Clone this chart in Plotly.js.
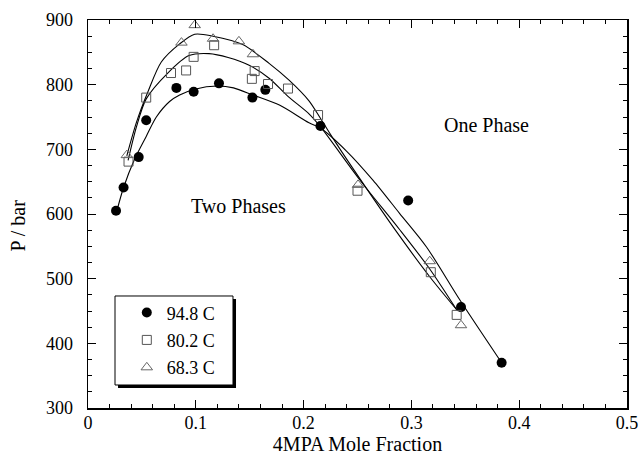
<!DOCTYPE html>
<html>
<head>
<meta charset="utf-8">
<script src="https://cdn.plot.ly/plotly-3.0.1.min.js"></script>
<style>html,body{margin:0;padding:0;background:#fff;}#chart{width:639px;height:462px;}</style>
</head>
<body>
<div id="chart"></div>
<script>
// measured points
const x94 = [0.026, 0.033, 0.047, 0.054, 0.082, 0.098, 0.1215, 0.1525, 0.1645, 0.2156, 0.297, 0.346, 0.3837];
const y94 = [605, 641, 688, 745, 795, 789, 802, 780, 792, 736, 621, 456, 370];
const x80 = [0.0376, 0.054, 0.077, 0.091, 0.098, 0.117, 0.1546, 0.152, 0.167, 0.1855, 0.2134, 0.25, 0.318, 0.342];
const y80 = [681, 780, 818, 822, 843, 861, 821, 809, 801, 794, 753, 636, 510, 444];
const x68 = [0.036, 0.0867, 0.099, 0.116, 0.140, 0.153, 0.2505, 0.317, 0.346];
const y68 = [691, 865, 892, 871, 867, 847, 645, 527, 428];
// fitted curves
const fit94x = [0.026, 0.033, 0.043, 0.054, 0.0634, 0.0757, 0.085, 0.099, 0.12, 0.135, 0.153, 0.178, 0.205, 0.2156, 0.24, 0.2645, 0.289, 0.314, 0.345, 0.3837];
const fit94y = [600, 641, 684, 720, 750, 774, 784, 793, 798, 795, 784, 768, 741, 733, 697, 652, 601, 549, 467, 370];
const fit80x = [0.0372, 0.045, 0.054, 0.074, 0.0937, 0.1123, 0.13, 0.1495, 0.168, 0.1855, 0.205, 0.2156, 0.252, 0.289, 0.317, 0.342];
const fit80y = [683, 735, 778, 818, 845, 848, 842, 830, 810, 782, 755, 735, 653, 576, 515, 452];
const fit68x = [0.036, 0.045, 0.0556, 0.068, 0.085, 0.099, 0.116, 0.1435, 0.168, 0.1865, 0.205, 0.2156, 0.23, 0.252, 0.283, 0.317, 0.343];
const fit68y = [690, 742, 789, 835, 863, 878, 875, 862, 833, 807, 775, 748, 710, 655, 580, 503, 450];
const seriesNames = ['94.8 C', '80.2 C', '68.3 C'];

const FONT = 'Liberation Serif, Times New Roman, serif';
const lineStyle = {color: '#000', width: 1.1, shape: 'spline', smoothing: 0.8};

const traces = [
  {x: fit94x, y: fit94y, mode: 'lines', line: lineStyle, showlegend: false, hoverinfo: 'skip'},
  {x: fit80x, y: fit80y, mode: 'lines', line: lineStyle, showlegend: false, hoverinfo: 'skip'},
  {x: fit68x, y: fit68y, mode: 'lines', line: lineStyle, showlegend: false, hoverinfo: 'skip'},
  {x: x94, y: y94, mode: 'markers', name: seriesNames[0], legendgroup: 'a',
   marker: {symbol: 'circle', size: 10, color: '#000'}},
  {x: x80, y: y80, mode: 'markers', name: seriesNames[1], legendgroup: 'b',
   marker: {symbol: 'square-open', size: 9, color: '#555', line: {width: 1}}},
  {x: x68, y: y68, mode: 'markers', name: seriesNames[2], legendgroup: 'c',
   marker: {symbol: 'triangle-up-open', size: 10, color: '#666', line: {width: 1}}}
];

const axisCommon = {
  showline: true, linecolor: '#000', linewidth: 1.5, mirror: 'allticks',
  ticks: 'inside', ticklen: 8, tickwidth: 1, tickcolor: '#000',
  showgrid: false, zeroline: false, automargin: false,
  tickfont: {family: FONT, size: 18, color: '#000'}
};

const layout = {
  width: 639, height: 462,
  margin: {l: 88, r: 12, t: 20, b: 54},
  paper_bgcolor: '#fff', plot_bgcolor: '#fff',
  font: {family: FONT, size: 18, color: '#000'},
  xaxis: Object.assign({}, axisCommon, {
    range: [0, 0.5], tick0: 0, dtick: 0.1, ticklabelstandoff: -2,
    minor: {dtick: 0.02, ticks: 'inside', ticklen: 4, tickcolor: '#000', showgrid: false},
    title: {text: '4MPA Mole Fraction', font: {family: FONT, size: 20, color: '#000'}, standoff: 4}
  }),
  yaxis: Object.assign({}, axisCommon, {
    range: [300, 900], tick0: 300, dtick: 100, ticklabelstandoff: 10,
    minor: {dtick: 25, ticks: 'inside', ticklen: 4, tickcolor: '#000', showgrid: false}
  }),
  showlegend: true,
  legend: {
    x: 0.072, y: 0.293, xanchor: 'left', yanchor: 'top',
    bgcolor: 'rgba(0,0,0,0)', borderwidth: 0,
    traceorder: 'grouped', tracegroupgap: 1,
    font: {family: FONT, size: 18, color: '#000'}
  },
  shapes: [
    {type: 'rect', xref: 'paper', yref: 'paper', x0: 0.0557, x1: 0.2746, y0: 0.0515, y1: 0.2809,
     fillcolor: '#000', line: {width: 0}, layer: 'above'},
    {type: 'rect', xref: 'paper', yref: 'paper', x0: 0.0501, x1: 0.269, y0: 0.0593, y1: 0.2887,
     fillcolor: '#fff', line: {color: '#000', width: 1}, layer: 'above'}
  ],
  annotations: [
    {x: -0.13, y: 0.47, xref: 'paper', yref: 'paper', text: 'P / bar', textangle: -90, showarrow: false,
     xanchor: 'center', yanchor: 'middle', font: {family: FONT, size: 20, color: '#000'}},
    {x: 0.1397, y: 612, xref: 'x', yref: 'y', text: 'Two Phases', showarrow: false,
     font: {family: FONT, size: 20, color: '#000'}},
    {x: 0.37, y: 737, xref: 'x', yref: 'y', text: 'One Phase', showarrow: false,
     font: {family: FONT, size: 20, color: '#000'}}
  ]
};

Plotly.newPlot('chart', traces, layout, {displayModeBar: false, staticPlot: true});
</script>
</body>
</html>
